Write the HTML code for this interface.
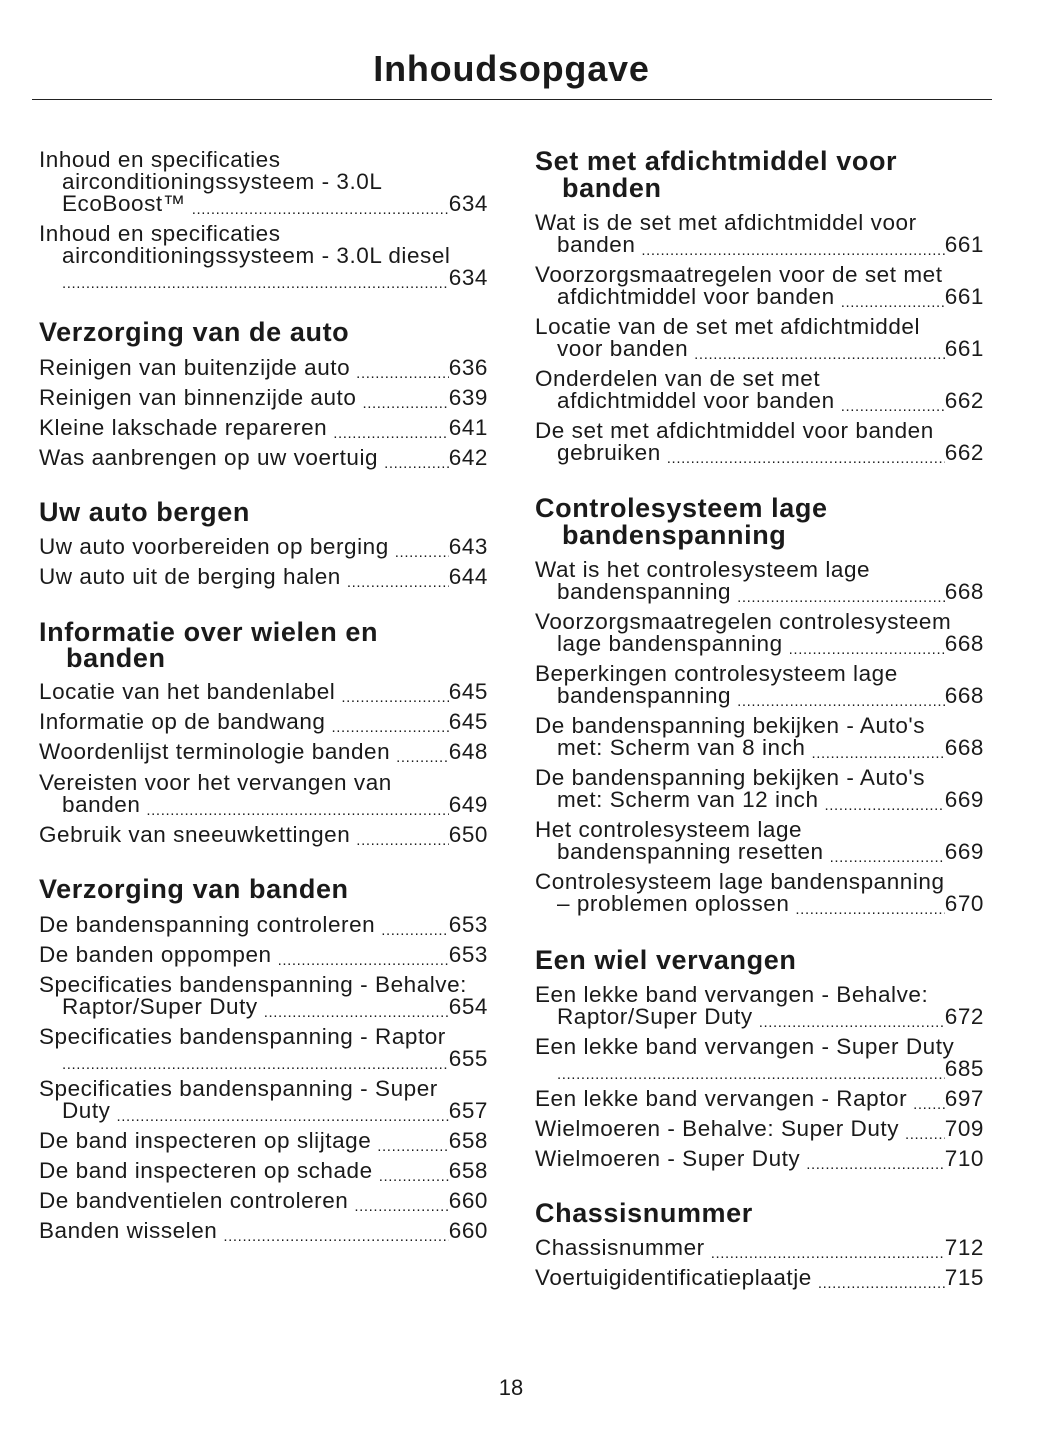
<!DOCTYPE html>
<html><head><meta charset="utf-8"><style>
body{margin:0;background:#fff;}
#p{position:relative;width:1055px;height:1448px;background:#fff;color:#1a1a1a;font-family:"Liberation Sans",sans-serif;overflow:hidden}
.t{position:absolute;left:0;width:1023px;text-align:center;top:48px;font-size:36px;font-weight:bold;letter-spacing:0.8px}
.r{position:absolute;left:32px;top:99px;width:960px;height:1px;background:#222}
.l{position:absolute;font-size:22.5px;line-height:26px;white-space:nowrap;display:flex;letter-spacing:0.55px}
.l .d{flex:1;overflow:hidden;letter-spacing:0.6px;font-size:15px;padding-top:6px;margin-left:6px}
.l .d::before{content:"..................................................................................................................................................................................";}
.h{position:absolute;font-size:27px;font-weight:bold;line-height:30px;white-space:nowrap;letter-spacing:0.6px}
.pg{position:absolute;top:1375px;left:0;width:1022px;text-align:center;font-size:22px}
</style></head><body><div id="p">
<div class="t">Inhoudsopgave</div><div class="r"></div>
<div id="c"></div>
<div class="pg">18</div>
</div>
<script>
var L=[
[0,160,0,"Inhoud en specificaties"],[0,182,1,"airconditioningssysteem - 3.0L"],[0,204,1,"EcoBoost™","634"],
[0,234,0,"Inhoud en specificaties"],[0,256,1,"airconditioningssysteem - 3.0L diesel"],[0,278,1,"","634"],
[0,333,"h","Verzorging van de auto"],
[0,368,0,"Reinigen van buitenzijde auto","636"],[0,398,0,"Reinigen van binnenzijde auto","639"],
[0,428,0,"Kleine lakschade repareren","641"],[0,458,0,"Was aanbrengen op uw voertuig","642"],
[0,513,"h","Uw auto bergen"],
[0,547,0,"Uw auto voorbereiden op berging","643"],[0,577,0,"Uw auto uit de berging halen","644"],
[0,633,"h","Informatie over wielen en"],[0,659,"h2","banden"],
[0,692,0,"Locatie van het bandenlabel","645"],[0,722,0,"Informatie op de bandwang","645"],
[0,752,0,"Woordenlijst terminologie banden","648"],[0,783,0,"Vereisten voor het vervangen van"],
[0,805,1,"banden","649"],[0,835,0,"Gebruik van sneeuwkettingen","650"],
[0,890,"h","Verzorging van banden"],
[0,925,0,"De bandenspanning controleren","653"],[0,955,0,"De banden oppompen","653"],
[0,985,0,"Specificaties bandenspanning - Behalve:"],[0,1007,1,"Raptor/Super Duty","654"],
[0,1037,0,"Specificaties bandenspanning - Raptor"],[0,1059,1,"","655"],
[0,1089,0,"Specificaties bandenspanning - Super"],[0,1111,1,"Duty","657"],
[0,1141,0,"De band inspecteren op slijtage","658"],[0,1171,0,"De band inspecteren op schade","658"],
[0,1201,0,"De bandventielen controleren","660"],[0,1231,0,"Banden wisselen","660"],
[1,162,"h","Set met afdichtmiddel voor"],[1,189,"h2","banden"],
[1,223,0,"Wat is de set met afdichtmiddel voor"],[1,245,1,"banden","661"],
[1,275,0,"Voorzorgsmaatregelen voor de set met"],[1,297,1,"afdichtmiddel voor banden","661"],
[1,327,0,"Locatie van de set met afdichtmiddel"],[1,349,1,"voor banden","661"],
[1,379,0,"Onderdelen van de set met"],[1,401,1,"afdichtmiddel voor banden","662"],
[1,431,0,"De set met afdichtmiddel voor banden"],[1,453,1,"gebruiken","662"],
[1,509,"h","Controlesysteem lage"],[1,536,"h2","bandenspanning"],
[1,570,0,"Wat is het controlesysteem lage"],[1,592,1,"bandenspanning","668"],
[1,622,0,"Voorzorgsmaatregelen controlesysteem"],[1,644,1,"lage bandenspanning","668"],
[1,674,0,"Beperkingen controlesysteem lage"],[1,696,1,"bandenspanning","668"],
[1,726,0,"De bandenspanning bekijken - Auto's"],[1,748,1,"met: Scherm van 8 inch","668"],
[1,778,0,"De bandenspanning bekijken - Auto's"],[1,800,1,"met: Scherm van 12 inch","669"],
[1,830,0,"Het controlesysteem lage"],[1,852,1,"bandenspanning resetten","669"],
[1,882,0,"Controlesysteem lage bandenspanning"],[1,904,1,"– problemen oplossen","670"],
[1,961,"h","Een wiel vervangen"],
[1,995,0,"Een lekke band vervangen - Behalve:"],[1,1017,1,"Raptor/Super Duty","672"],
[1,1047,0,"Een lekke band vervangen - Super Duty"],[1,1069,1,"","685"],
[1,1099,0,"Een lekke band vervangen - Raptor","697"],[1,1129,0,"Wielmoeren - Behalve: Super Duty","709"],
[1,1159,0,"Wielmoeren - Super Duty","710"],
[1,1214,"h","Chassisnummer"],
[1,1248,0,"Chassisnummer","712"],[1,1278,0,"Voertuigidentificatieplaatje","715"]
];
var h="";
L.forEach(function(a){
 var x0=a[0]?535:39, right=a[0]?984:488;
 if(a[2]=="h"||a[2]=="h2"){
  var x=a[2]=="h2"?x0+27:x0;
  h+='<div class="h" style="left:'+x+'px;top:'+(a[1]-16)+'px">'+a[3]+'</div>';
 } else {
  var x=x0+(a[2]?(a[0]?22:23):0);
  if(a.length>4) h+='<div class="l" style="left:'+x+'px;width:'+(right-x)+'px;top:'+(a[1]-13)+'px"><span>'+a[3]+'</span><span class="d"'+(a[3]==""?' style="margin-left:0"':'')+'></span><span>'+a[4]+'</span></div>';
  else h+='<div class="l" style="left:'+x+'px;top:'+(a[1]-13)+'px">'+a[3]+'</div>';
 }
});
document.getElementById("c").innerHTML=h;
</script>
</body></html>
